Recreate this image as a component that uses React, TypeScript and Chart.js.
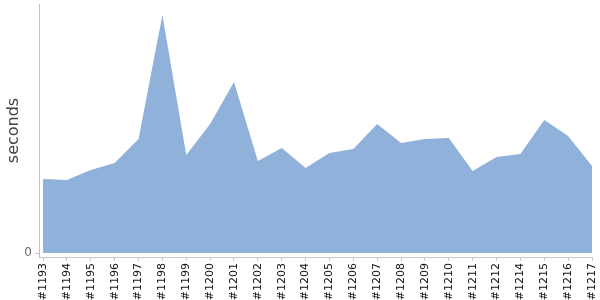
import React, { useEffect, useRef } from "react";
import { Chart, registerables } from "chart.js";

Chart.register(...registerables);

const builds = [
  "#1193", "#1194", "#1195", "#1196", "#1197", "#1198", "#1199", "#1200",
  "#1201", "#1202", "#1203", "#1204", "#1205", "#1206", "#1207", "#1208",
  "#1209", "#1210", "#1211", "#1212", "#1214", "#1215", "#1216", "#1217",
];

const seconds = [
  74, 73, 83, 90, 114, 238, 98, 129,
  171, 92, 105, 85, 100, 104, 129, 110,
  114, 115, 82, 96, 99, 133, 117, 87,
];

const yTicks = [0];

export default function App() {
  const ref = useRef<HTMLCanvasElement | null>(null);

  useEffect(() => {
    document.body.style.margin = "0";
    const canvas = ref.current;
    if (!canvas) return;
    const zeroPad = (scale: any) => {
      scale.paddingTop = 0;
      scale.paddingBottom = 0;
      scale.paddingLeft = 0;
      scale.paddingRight = 0;
    };
    const chart = new Chart(canvas, {
      type: "line",
      data: {
        datasets: [
          {
            data: seconds.map((v, i) => ({ x: i, y: v })),
            fill: "origin",
            backgroundColor: "#8fb1da",
            borderColor: "#8fb1da",
            borderWidth: 0,
            pointRadius: 0,
            tension: 0,
          },
        ],
      },
      options: {
        animation: false,
        responsive: false,
        maintainAspectRatio: false,
        layout: { padding: { top: 4, right: 8, left: 0, bottom: 0 } },
        plugins: { legend: { display: false }, tooltip: { enabled: false } },
        scales: {
          x: {
            type: "linear",
            min: -0.17,
            max: builds.length - 1,
            afterBuildTicks: (axis: any) => {
              axis.ticks = builds.map((_, i) => ({ value: i }));
            },
            afterFit: (scale: any) => {
              scale.height = 43;
              zeroPad(scale);
            },
            ticks: {
              autoSkip: false,
              minRotation: 90,
              maxRotation: 90,
              padding: 2,
              color: "#111",
              font: { family: "DejaVu Sans", size: 11 },
              callback: (v: any) => builds[Math.round(Number(v))] ?? "",
            },
            grid: {
              drawOnChartArea: false,
              drawTicks: true,
              tickLength: 4,
              color: "#c8c8c8",
            },
            border: { display: true, color: "#c8c8c8", width: 1 },
          },
          y: {
            min: -4,
            max: 249,
            afterBuildTicks: (axis: any) => {
              axis.ticks = yTicks.map((v) => ({ value: v }));
            },
            afterFit: (scale: any) => {
              scale.width = 39;
              zeroPad(scale);
            },
            title: {
              display: true,
              text: "seconds",
              color: "#444",
              font: { family: "DejaVu Sans", size: 16 },
              padding: { top: 4, bottom: 0 },
            },
            ticks: {
              color: "#666",
              padding: 3,
              font: { family: "DejaVu Sans", size: 12 },
            },
            grid: {
              drawOnChartArea: false,
              drawTicks: true,
              tickLength: 4,
              color: "#c8c8c8",
            },
            border: { display: true, color: "#c0c0c0", width: 1 },
          },
        },
      },
    });
    return () => chart.destroy();
  }, []);

  return (
    <div style={{ width: 600, height: 300 }}>
      <canvas ref={ref} width={600} height={300} style={{ display: "block" }} />
    </div>
  );
}
